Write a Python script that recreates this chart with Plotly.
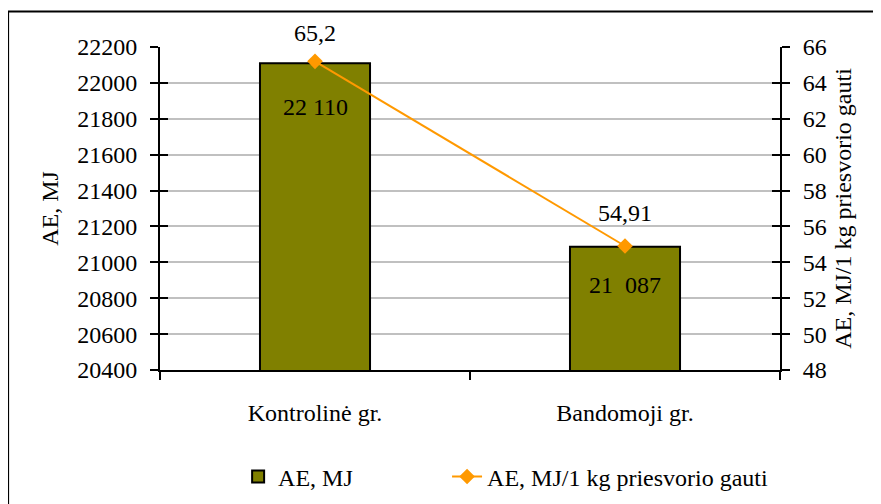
import plotly.graph_objects as go

categories = ["Kontrolinė gr.", "Bandomoji gr."]
ae_mj = [22110, 21087]
ae_mj_labels = ["22 110", "21  087"]
ae_per_kg = [65.2, 54.91]
ae_per_kg_labels = ["65,2", "54,91"]
bar_name = "AE, MJ"
line_name = "AE, MJ/1 kg priesvorio gauti"

FONT = "Liberation Serif"
FS = 24
F = dict(family=FONT, size=FS, color="black")
bar_label_shift = [-44, -38]
line_label_shift = [28, 33]

fig = go.Figure()
fig.add_trace(go.Bar(
    x=categories, y=ae_mj, name=bar_name, legend="legend",
    marker=dict(color="#808000", line=dict(color="black", width=2)),
    width=0.355,
))
fig.add_trace(go.Scatter(
    x=categories, y=ae_per_kg, name=line_name, yaxis="y2", legend="legend2",
    mode="lines+markers", cliponaxis=False,
    line=dict(color="#FF9900", width=2),
    marker=dict(symbol="diamond", size=12, color="#FF9900"),
))
for c, v, t, s in zip(categories, ae_mj, ae_mj_labels, bar_label_shift):
    fig.add_annotation(x=c, y=v, text=t, showarrow=False, yshift=s, font=F)
for c, v, t, s in zip(categories, ae_per_kg, ae_per_kg_labels, line_label_shift):
    fig.add_annotation(x=c, y=v, yref="y2", text=t, showarrow=False, yshift=s, font=F)

fig.add_shape(type="rect", xref="paper", yref="paper",
              x0=-0.245, x1=1.25, y0=-0.6, y1=1.110,
              line=dict(color="black", width=2), fillcolor="rgba(0,0,0,0)", layer="below")

common_y = dict(showline=True, linecolor="black", linewidth=2, ticks="outside",
                ticklen=8, tickwidth=2, tickcolor="black", zeroline=False,
                tickfont=F, automargin=False, ticklabelstandoff=8)

fig.update_layout(
    width=881, height=504,
    margin=dict(l=152, r=109, t=39, b=139),
    paper_bgcolor="white", plot_bgcolor="white",
    font=F,
    xaxis=dict(showline=True, linecolor="black", linewidth=2, ticks="outside",
               tickson="boundaries", ticklen=8, tickwidth=2, tickcolor="black",
               ticklabelstandoff=20, showgrid=False, zeroline=False, tickfont=F,
               automargin=False),
    yaxis=dict(range=[20400, 22200], dtick=200, showgrid=True, gridcolor="#C0C0C0",
               gridwidth=2, title=dict(text="AE, MJ", standoff=12, font=F),
               tickformat="d", **common_y),
    yaxis2=dict(range=[48, 66], dtick=2, overlaying="y", side="right", showgrid=False,
                title=dict(text=line_name, standoff=8, font=F), **common_y),
    yaxis3=dict(range=[20400, 22200], dtick=200, overlaying="y", side="left",
                ticks="inside", ticklen=8, tickwidth=2, tickcolor="black",
                showticklabels=False, showgrid=False, zeroline=False, showline=False,
                automargin=False),
    yaxis4=dict(range=[48, 66], dtick=2, overlaying="y", side="right",
                ticks="inside", ticklen=8, tickwidth=2, tickcolor="black",
                showticklabels=False, showgrid=False, zeroline=False, showline=False,
                automargin=False),
    legend=dict(orientation="h", x=0.126, y=-0.331, xanchor="left", yanchor="middle",
                font=F, bgcolor="rgba(0,0,0,0)"),
    legend2=dict(orientation="h", x=0.463, y=-0.331, xanchor="left", yanchor="middle",
                 font=F, bgcolor="rgba(0,0,0,0)"),
    showlegend=True,
)

fig.add_trace(go.Scatter(x=categories, y=ae_mj, yaxis="y3", mode="none",
                         showlegend=False, hoverinfo="skip"))
fig.add_trace(go.Scatter(x=categories, y=ae_per_kg, yaxis="y4", mode="none",
                         showlegend=False, hoverinfo="skip"))

fig.write_html("out.html")
